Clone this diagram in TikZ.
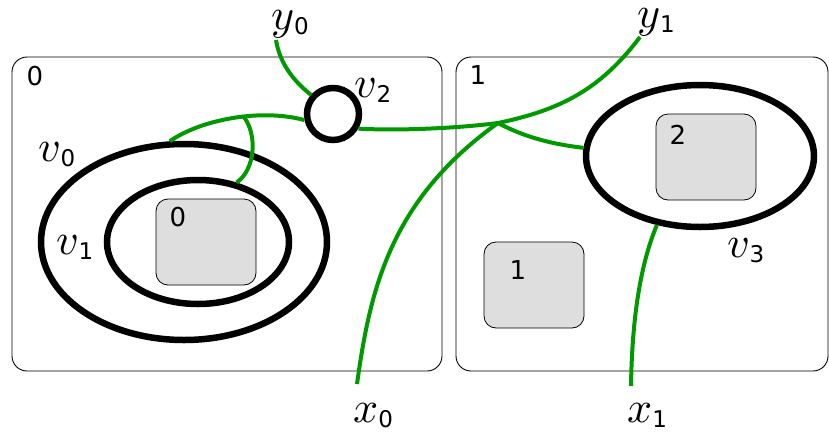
\documentclass[tikz,border=0pt]{standalone}
\usepackage{fontspec}
\usepackage{unicode-math}
\setmathfont{Latin Modern Math}
\newfontfamily\djv{DejaVu Sans}
\usetikzlibrary{shapes.geometric}
\definecolor{wirecol}{RGB}{0,153,0}
\definecolor{cellfill}{RGB}{222,222,222}
\newcommand\vlab[2]{{\fontsize{44}{48}\selectfont$#1$}\raisebox{-5pt}{\djv\fontsize{23}{26}\selectfont #2}}
\begin{document}
\begin{tikzpicture}[x=1pt,y=-1pt,
  region/.style={draw=black, line width=0.9pt, rounded corners=15pt, inner sep=0pt, outer sep=0pt},
  cell/.style={draw=black, line width=0.8pt, fill=cellfill, rounded corners=12pt, minimum width=100pt, minimum height=86pt, inner sep=0pt},
  vtx/.style={ellipse, draw=black, line width=6.5pt, inner sep=0pt},
  wire/.style={draw=wirecol, line width=4pt},
  num/.style={font=\djv\fontsize{26}{28}\selectfont, inner sep=0pt},
  vl/.style={inner sep=0pt}]
\useasboundingbox (0,0) rectangle (829,434);
% regions
\node[region, minimum width=430pt, minimum height=314pt] (R0) at (227,214) {};
\node[region, minimum width=372pt, minimum height=314pt] (R1) at (642,214) {};
\node[num] (R0l) at (35,76) {0};
\node[num] (R1l) at (478,75) {1};
% cells
\node[cell] (C0) at (206,242) {};
\node[cell] (C1) at (534,285) {};
\node[cell] (C2) at (706,157) {};
\node[num] (C0l) at (178,217) {0};
\node[num] (C1l) at (518,270) {1};
\node[num] (C2l) at (678,135) {2};
% vertices
\node[vtx, minimum width=286pt, minimum height=196pt] (v0) at (184,242) {};
\node[vtx, minimum width=182pt, minimum height=124pt] (v1) at (198,242) {};
\node[vtx, circle, minimum size=52pt] (v2) at (333,114) {};
\node[vtx, minimum width=228pt, minimum height=142pt] (v3) at (700,156) {};
% labels
\node[vl] (lv0) at (57,154) {\vlab{v}{0}};
\node[vl] (lv1) at (75,247) {\vlab{v}{1}};
\node[vl] (lv2) at (373,90) {\vlab{v}{2}};
\node[vl] (lv3) at (746,250) {\vlab{v}{3}};
\node[vl] (ly0) at (290,24) {\vlab{y}{0}};
\node[vl] (ly1) at (656,22) {\vlab{y}{1}};
\node[vl] (lx0) at (373,415) {\vlab{x}{0}};
\node[vl] (lx1) at (647,415) {\vlab{x}{1}};
% wire ends
\coordinate (ey0) at (276,40);
\coordinate (ey1) at (640,37);
\coordinate (ex0) at (357,384);
\coordinate (ex1) at (631,386);
\coordinate (J) at (498,123);
% wires
\draw[wire] (ey0) .. controls (280,65) and (295,82) .. (v2.139);
\draw[wire] (v0.98) .. controls (200,120) and (260,108) .. coordinate[pos=0.58] (B) (v2.192);
\draw[wire] (B) .. controls (258,135) and (255,170) .. (v1.57);
\draw[wire] (v2.-30) .. controls (400,131) and (460,128) .. (J);
\draw[wire] (J) .. controls (560,110) and (600,90) .. (ey1);
\draw[wire] (J) .. controls (530,140) and (560,145) .. (v3.176);
\draw[wire] (ex0) .. controls (370,290) and (390,200) .. (J);
\draw[wire] (ex1) .. controls (632,320) and (640,265) .. (v3.238);
\end{tikzpicture}
\end{document}
